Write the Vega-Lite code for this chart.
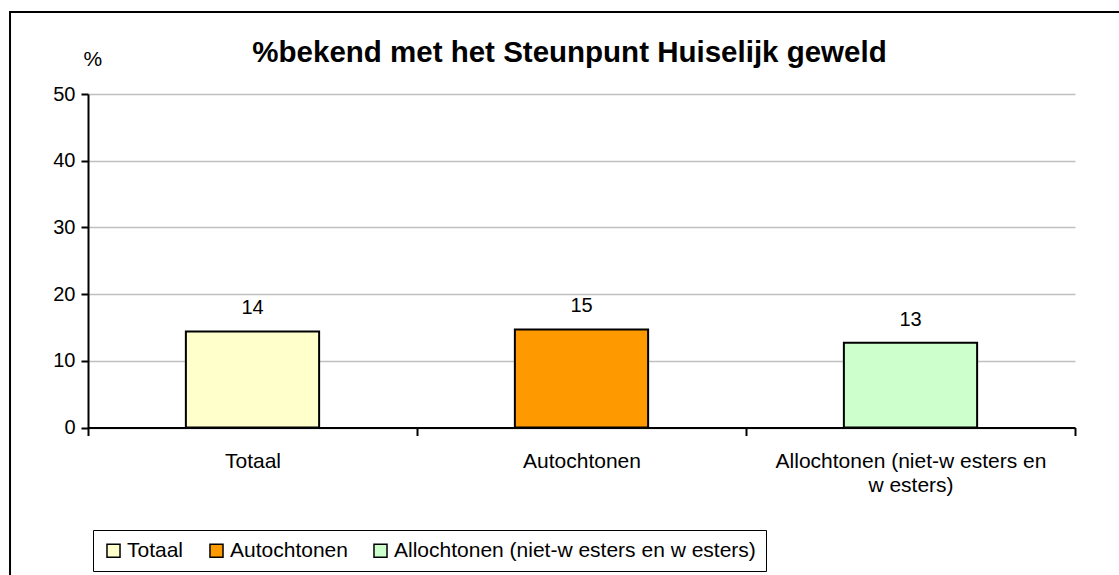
{
  "$schema": "https://vega.github.io/schema/vega-lite/v6.json",
  "width": 987,
  "height": 333.5,
  "autosize": {"type": "none"},
  "padding": {"left": 88, "top": 94, "right": 44, "bottom": 147.5},
  "background": "white",
  "config": {
    "font": "Liberation Sans",
    "view": {"stroke": null},
    "axis": {"labelFont": "Liberation Sans", "titleFont": "Liberation Sans", "labelColor": "black", "titleColor": "black"},
    "legend": {"labelFont": "Liberation Sans"}
  },
  "title": {
    "text": "%bekend met het Steunpunt Huiselijk geweld",
    "font": "Liberation Sans",
    "fontSize": 29.5,
    "fontWeight": "bold",
    "color": "black",
    "anchor": "middle",
    "frame": "group",
    "baseline": "alphabetic",
    "offset": 0,
    "dx": -12,
    "dy": 81
  },
  "data": {
    "values": [
      {"cat": "Totaal", "value": 14.4},
      {"cat": "Autochtonen", "value": 14.7},
      {"cat": "Allochtonen (niet-w esters en w esters)", "value": 12.7}
    ]
  },
  "encoding": {
    "x": {
      "field": "cat",
      "type": "nominal",
      "sort": null,
      "scale": {"paddingInner": 0, "paddingOuter": 0},
      "axis": {
        "title": null,
        "labelAngle": 0,
        "labelFontSize": 21,
        "labelPadding": 15,
        "labelLimit": 0,
        "labelLineHeight": 24,
        "labelExpr": "datum.label == 'Allochtonen (niet-w esters en w esters)' ? ['Allochtonen (niet-w esters en', 'w esters)'] : datum.label",
        "tickBand": "extent",
        "tickSize": 8,
        "tickColor": "black",
        "tickWidth": 2,
        "domainColor": "black",
        "domainWidth": 2,
        "grid": false
      }
    }
  },
  "layer": [
    {
      "mark": {"type": "bar", "width": {"band": 0.405}, "stroke": "black", "strokeWidth": 2},
      "encoding": {
        "y": {
          "field": "value",
          "type": "quantitative",
          "scale": {"domain": [0, 50], "nice": false, "zero": true},
          "axis": {
            "values": [0, 10, 20, 30, 40, 50],
            "title": "%",
            "titleAngle": 0,
            "titleFontSize": 21,
            "titleFontWeight": "normal",
            "titleAlign": "left",
            "titleBaseline": "alphabetic",
            "titleX": -5,
            "titleY": -29,
            "labelFontSize": 20,
            "labelPadding": 6,
            "tickSize": 7,
            "tickColor": "black",
            "tickWidth": 2,
            "domainColor": "black",
            "domainWidth": 2,
            "gridColor": "#c0c0c0",
            "gridWidth": 1.5
          }
        },
        "color": {
          "field": "cat",
          "type": "nominal",
          "sort": null,
          "scale": {
            "domain": ["Totaal", "Autochtonen", "Allochtonen (niet-w esters en w esters)"],
            "range": ["#FFFFCC", "#FF9900", "#CCFFCC"]
          },
          "legend": {
            "title": null,
            "orient": "none",
            "legendX": 5,
            "legendY": 436,
            "direction": "horizontal",
            "columns": 3,
            "padding": 10,
            "strokeColor": "black",
            "fillColor": "white",
            "labelFontSize": 21,
            "labelLimit": 0,
            "labelColor": "black",
            "labelOffset": 3,
            "columnPadding": 22,
            "symbolType": "square",
            "symbolSize": 170,
            "symbolStrokeColor": "black",
            "symbolStrokeWidth": 1.5,
            "symbolOpacity": 1
          }
        }
      }
    },
    {
      "mark": {"type": "text", "fontSize": 20, "color": "black", "baseline": "alphabetic", "dy": -17},
      "encoding": {
        "y": {"field": "value", "type": "quantitative"},
        "text": {"field": "value", "type": "quantitative", "format": ".0f"}
      }
    },
    {
      "data": {"values": [{"a": 1}]},
      "mark": {"type": "rect", "fill": null, "fillOpacity": 0, "stroke": "black", "strokeWidth": 2},
      "encoding": {
        "x": {"datum": "Totaal", "bandPosition": -0.237},
        "x2": {"datum": "Allochtonen (niet-w esters en w esters)", "bandPosition": 1.6},
        "y": {"datum": 62.3},
        "y2": {"datum": -30}
      }
    }
  ]
}
